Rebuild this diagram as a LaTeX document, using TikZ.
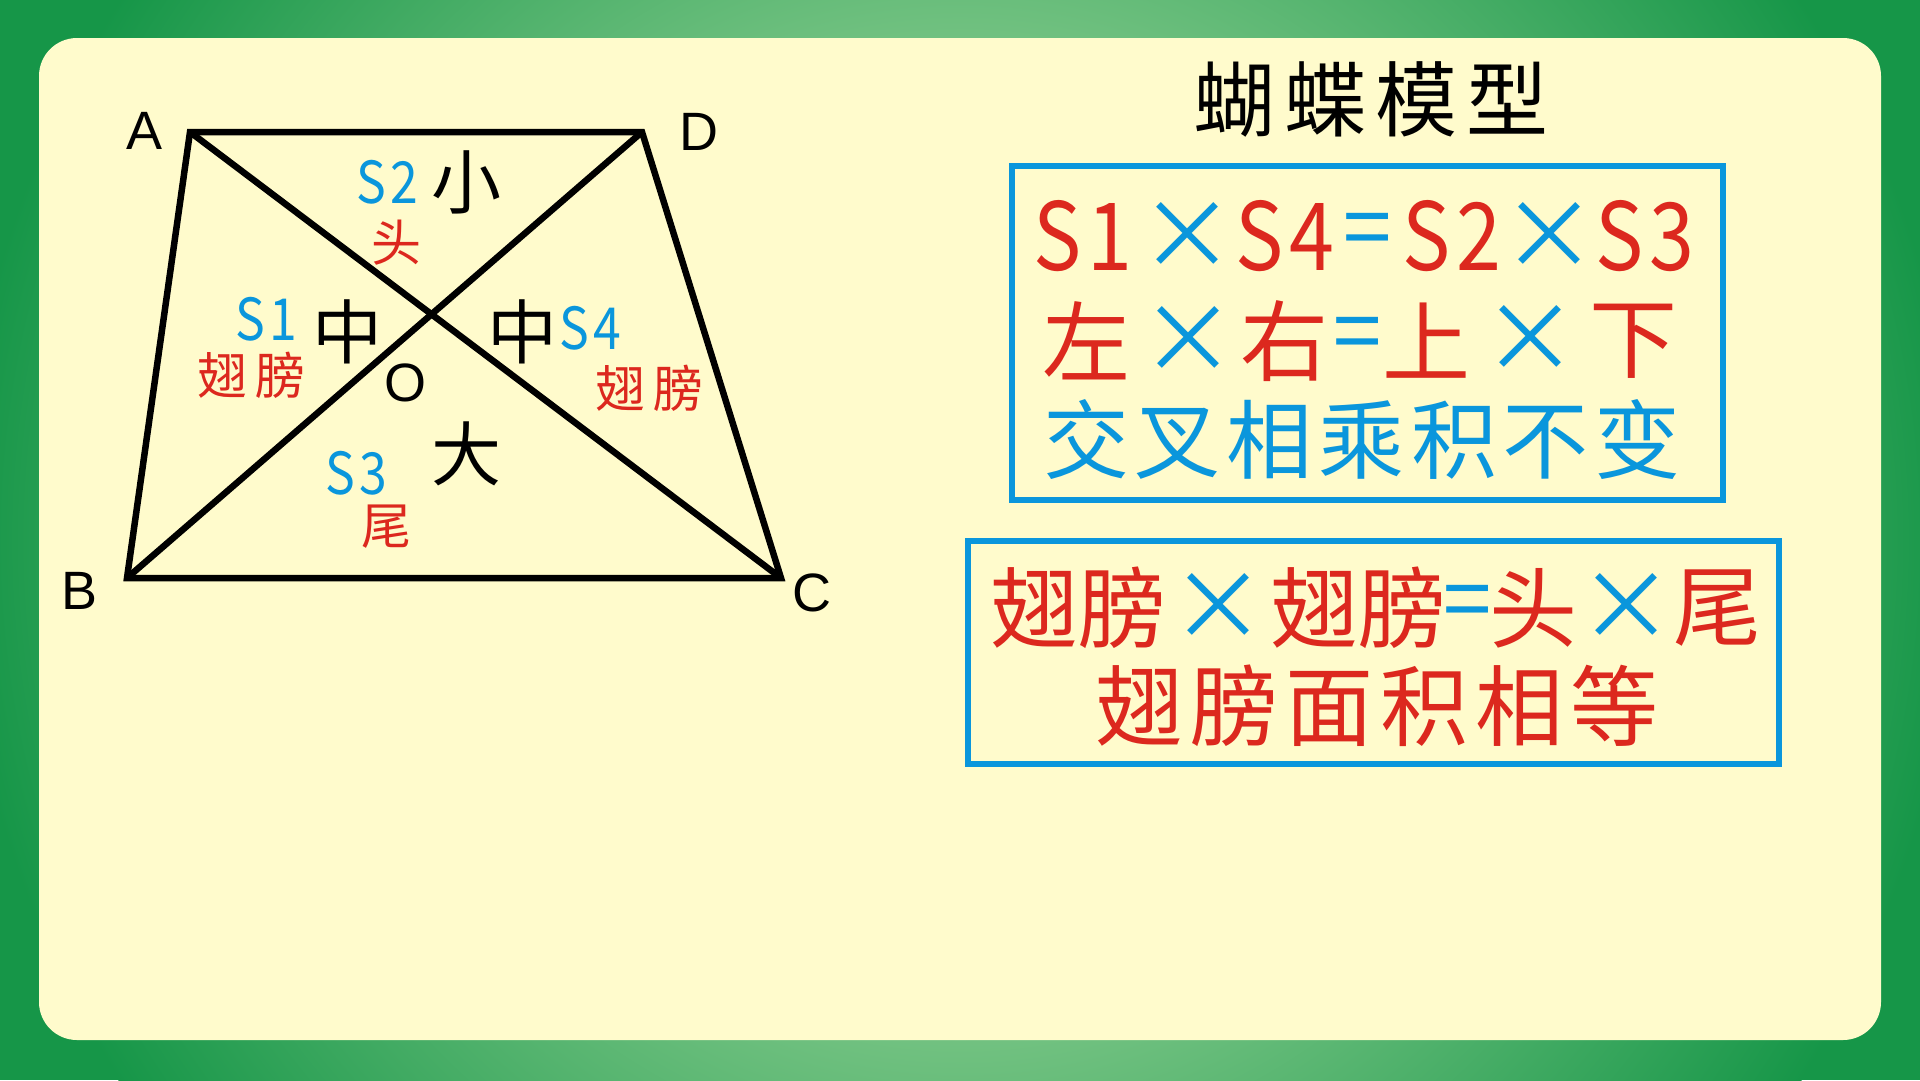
\documentclass[tikz,border=0pt]{standalone}
\usepackage{fontspec}
\setmainfont{Liberation Sans}
\newfontfamily\cjk{Noto Sans CJK SC}
\newfontfamily\cjkn[FakeStretch=0.86]{Noto Sans CJK SC}
\definecolor{myred}{RGB}{220,40,30}
\definecolor{myblue}{RGB}{10,150,220}
\definecolor{cream}{RGB}{255,251,204}
\definecolor{gdark}{RGB}{22,150,72}
\definecolor{glight}{RGB}{205,237,185}
\pgfdeclareradialshading{frameshade}{\pgfpoint{0bp}{0bp}}{color(0bp)=(glight); color(25bp)=(gdark); color(50bp)=(gdark)}
\newcommand\fsz[1]{\fontsize{#1}{#1}\selectfont}
\tikzset{
  every node/.style={inner sep=0pt, outer sep=0pt},
  vlab/.style={font=\fsz{54}, text=black},
  sblue/.style={font=\cjkn\fsz{58}, text=myblue},
  bigblack/.style={font=\cjk\fsz{70}, text=black},
  smallred/.style={font=\cjk\fsz{50}, text=myred},
  eqred/.style={font=\cjkn\fsz{94}, text=myred},
  eqblue/.style={font=\cjk\fsz{96}, text=myblue},
  eqsign/.style={font=\fsz{86}, text=myblue},
  bigred/.style={font=\cjk\fsz{88}, text=myred},
  bigblue/.style={font=\cjk\fsz{86}, text=myblue},
  frame/.style={draw=myblue, line width=6},
  edge/.style={line width=6.5, line join=miter}
}
\begin{document}
\begin{tikzpicture}[x=1pt,y=-1pt]
\useasboundingbox (0,0) rectangle (1920,1080);
\fill[gdark] (0,0) rectangle (1920,1080);
\begin{scope}
\clip (0,0) rectangle (1920,1080);
\shade[shading=frameshade] (960,540) circle (1000);
\end{scope}
\fill[cream, rounded corners=38] (39,38) rectangle (1881,1040);

% trapezoid
\coordinate (pA) at (190,132);
\coordinate (pD) at (642,132);
\coordinate (pC) at (781,578);
\coordinate (pB) at (127,578);
\draw[edge] (pA) -- (pD) -- (pC) -- (pB) -- cycle;
\draw[edge] (pA) -- (pC);
\draw[edge] (pB) -- (pD);

\node[vlab] (lA) at (145,131) {A};
\node[vlab] (lD) at (699,132) {D};
\node[vlab] (lB) at (80,591) {B};
\node[vlab] (lC) at (812,593) {C};
\node[vlab] (lO) at (405,383) {O};

\node[sblue] (s2) at (387,182) {S\hspace{4pt}2};
\node[bigblack] (xiao) at (466,182) {小};
\node[smallred] (tou) at (396,243) {头};
\node[sblue] (s1) at (266,319) {S\hspace{4pt}1};
\node[bigblack] (zhongL) at (347,332) {中};
\node[smallred] (chiL) at (251,375) {翅\hspace{8pt}膀};
\node[bigblack] (zhongR) at (522,332) {中};
\node[sblue] (s4) at (590,328) {S\hspace{4pt}4};
\node[smallred] (chiR) at (649,388) {翅\hspace{8pt}膀};
\node[bigblack] (da) at (466,454) {大};
\node[sblue] (s3) at (356,473) {S\hspace{4pt}3};
\node[smallred] (wei) at (386,527) {尾};

% title
\node[font=\cjk\fsz{82}, text=black] (title) at (1371,99) {蝴\hspace{9pt}蝶\hspace{9pt}模\hspace{9pt}型};

% box 1
\draw[frame] (1012,166) rectangle (1723,500);
\node[eqred] (e1) at (1083,236) {S\hspace{6pt}1};
\node[eqblue] (e2) at (1187,236) {×};
\node[eqred] (e3) at (1285,236) {S\hspace{6pt}4};
\node[eqsign] (e4) at (1368,234) {=};
\node[eqred] (e5) at (1452,236) {S\hspace{6pt}2};
\node[eqblue] (e6) at (1549,236) {×};
\node[eqred] (e7) at (1645,236) {S\hspace{6pt}3};

\node[bigred] (f1) at (1086,341) {左};
\node[eqblue] (f2) at (1188,340) {×};
\node[bigred] (f3) at (1284,341) {右};
\node[eqsign] (f4) at (1358,338) {=};
\node[bigred] (f5) at (1426,341) {上};
\node[eqblue] (f6) at (1530,339) {×};
\node[bigred] (f7) at (1633,341) {下};

\node[bigblue] (g1) at (1362,440) {交\hspace{6pt}叉\hspace{6pt}相\hspace{6pt}乘\hspace{6pt}积\hspace{6pt}不\hspace{6pt}变};

% box 2
\draw[frame] (968,541) rectangle (1779,764);
\node[bigred] (h1) at (1078,608) {翅膀};
\node[eqblue] (h2) at (1218,607) {×};
\node[bigred] (h3) at (1358,608) {翅膀};
\node[eqsign] (h4) at (1468,606) {=};
\node[bigred] (h5) at (1533,608) {头};
\node[eqblue] (h6) at (1626,607) {×};
\node[bigred] (h7) at (1717,608) {尾};

\node[bigred] (k1) at (1377,706) {翅\hspace{7pt}膀\hspace{7pt}面\hspace{7pt}积\hspace{7pt}相\hspace{7pt}等};
\end{tikzpicture}
\end{document}
